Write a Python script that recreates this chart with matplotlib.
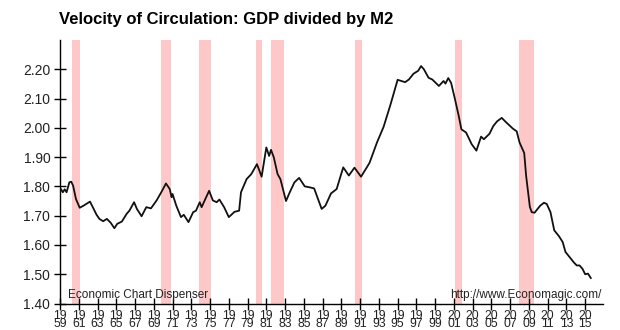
import matplotlib
matplotlib.use("Agg")
import matplotlib.pyplot as plt

plt.rcParams['font.family'] = ['Liberation Sans', 'DejaVu Sans']

title = "Velocity of Circulation: GDP divided by M2"

years = [1959.0, 1959.1, 1959.3, 1959.5, 1959.7, 1960.0, 1960.2, 1960.4, 1960.7, 1961.1,
         1961.5, 1962.2, 1962.5, 1962.9, 1963.2, 1963.6, 1964.0, 1964.4, 1964.8, 1965.1,
         1965.6, 1966.1, 1966.4, 1966.9, 1967.2, 1967.7, 1968.2, 1968.7, 1969.3, 1969.8,
         1970.3, 1970.7, 1970.9, 1971.0, 1971.4, 1971.9, 1972.2, 1972.7, 1973.2, 1973.5,
         1973.9, 1974.1, 1974.5, 1974.9, 1975.3, 1975.7, 1976.0, 1976.5, 1977.0, 1977.6,
         1978.1, 1978.3, 1978.9, 1979.4, 1980.0, 1980.5, 1981.0, 1981.3, 1981.5, 1981.8,
         1982.2, 1982.5, 1983.1, 1983.5, 1984.0, 1984.5, 1985.1, 1985.6, 1986.1, 1986.9,
         1987.3, 1987.9, 1988.5, 1989.2, 1989.8, 1990.4, 1991.1, 1992.0, 1992.8, 1993.5,
         1994.2, 1995.0, 1995.8, 1996.2, 1996.7, 1997.2, 1997.5, 1997.8, 1998.3, 1998.7,
         1999.4, 1999.9, 2000.1, 2000.4, 2000.7, 2001.1, 2001.5, 2001.8, 2002.3, 2002.9,
         2003.4, 2003.9, 2004.2, 2004.8, 2005.2, 2005.6, 2006.1, 2006.6, 2007.3, 2007.7,
         2008.0, 2008.5, 2008.7, 2009.1, 2009.3, 2009.6, 2010.2, 2010.6, 2010.9, 2011.3,
         2011.7, 2012.2, 2012.6, 2012.9, 2013.4, 2013.8, 2014.1, 2014.4, 2014.7, 2015.0,
         2015.3, 2015.6]
velocity = [1.780, 1.791, 1.780, 1.790, 1.780, 1.814, 1.816, 1.802, 1.757, 1.727,
            1.734, 1.748, 1.729, 1.703, 1.689, 1.681, 1.689, 1.676, 1.657, 1.672,
            1.680, 1.706, 1.717, 1.746, 1.723, 1.698, 1.729, 1.725, 1.752, 1.780,
            1.810, 1.791, 1.763, 1.774, 1.734, 1.695, 1.703, 1.678, 1.712, 1.717,
            1.746, 1.729, 1.757, 1.785, 1.752, 1.746, 1.755, 1.729, 1.695, 1.713,
            1.717, 1.780, 1.825, 1.842, 1.876, 1.833, 1.933, 1.904, 1.925, 1.899,
            1.842, 1.825, 1.750, 1.780, 1.814, 1.829, 1.800, 1.797, 1.793, 1.723,
            1.734, 1.776, 1.791, 1.865, 1.837, 1.864, 1.833, 1.880, 1.950, 2.003,
            2.075, 2.164, 2.156, 2.165, 2.185, 2.195, 2.211, 2.200, 2.171, 2.165,
            2.143, 2.160, 2.151, 2.170, 2.154, 2.100, 2.043, 1.995, 1.984, 1.944,
            1.922, 1.970, 1.961, 1.980, 2.006, 2.022, 2.034, 2.018, 1.997, 1.988,
            1.950, 1.914, 1.837, 1.730, 1.712, 1.710, 1.734, 1.744, 1.740, 1.712,
            1.650, 1.630, 1.610, 1.576, 1.556, 1.540, 1.530, 1.530, 1.519, 1.500,
            1.502, 1.487]

recession_start = [1960.25, 1969.8, 1973.8, 1979.95, 1981.45, 1990.45, 2001.1, 2007.9]
recession_end = [1961.1, 1970.85, 1975.15, 1980.5, 1982.85, 1991.2, 2001.9, 2009.5]

xtick_years = list(range(1959, 2016, 2))
xtick_labels = [f"{str(y)[:2]}\n{str(y)[2:]}" for y in xtick_years]
ytick_values = [1.40, 1.50, 1.60, 1.70, 1.80, 1.90, 2.00, 2.10, 2.20]
ytick_labels = [f"{v:.2f}" for v in ytick_values]

fig = plt.figure(figsize=(6.2, 3.3), dpi=100)
ax = fig.add_axes([60/620, 1 - 303.5/330, 543/620, 263.5/330])

for s, e in zip(recession_start, recession_end):
    ax.axvspan(s, e, color='#ffc8c8', lw=0, zorder=0)

ax.plot(years, velocity, color='#111111', lw=1.3, zorder=3)

ax.set_xlim(1959, 2016.9)
ax.set_ylim(1.40, 2.30)
ax.set_xticks(xtick_years)
ax.set_xticklabels(xtick_labels, fontsize=8.8, color='#222222')
for lbl in ax.get_xticklabels():
    lbl.set_linespacing(0.6)
ax.set_yticks(ytick_values)
ax.set_yticklabels(ytick_labels, fontsize=10, color='#222222')
ax.tick_params(axis='both', direction='inout', length=8, width=1, color='black')
ax.tick_params(axis='x', pad=0.5)
ax.tick_params(axis='y', pad=3)

for side in ['top', 'right']:
    ax.spines[side].set_visible(False)
for side in ['left', 'bottom']:
    ax.spines[side].set_color('black')
    ax.spines[side].set_linewidth(1)

ax.text(1959.9, 1.418, "Economic Chart Dispenser", fontsize=8.5, color='#222222',
        ha='left', va='baseline', zorder=4)
ax.text(2016.7, 1.418, "http://www.Economagic.com/", fontsize=8.5, color='#222222',
        ha='right', va='baseline', zorder=4)

fig.text(59/620, 1 - 24/330, title, fontsize=12, fontweight='bold', color='black',
         ha='left', va='baseline')

fig.savefig("out.png", dpi=100)
